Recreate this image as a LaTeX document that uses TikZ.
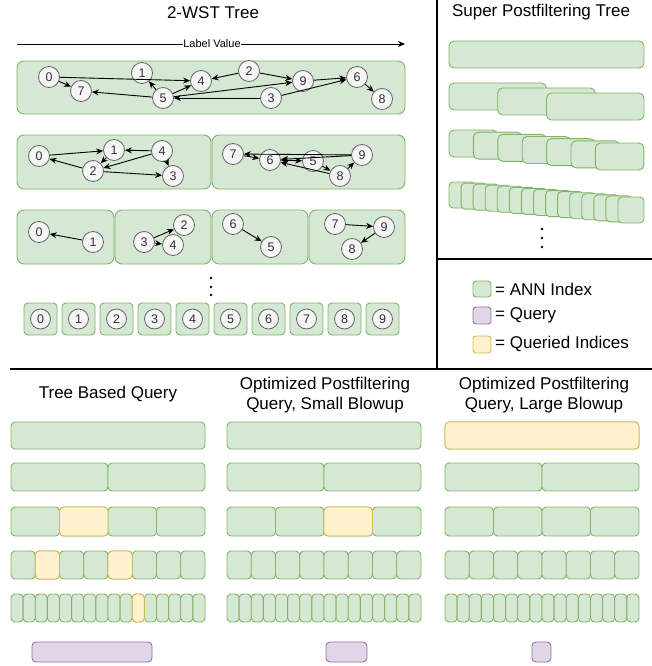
\documentclass[tikz,border=0pt]{standalone}
\usepackage{fontspec}
\setmainfont{Liberation Sans}
\usetikzlibrary{arrows.meta}
\definecolor{gfill}{HTML}{D5E8D4}
\definecolor{gline}{HTML}{82B366}
\definecolor{yfill}{HTML}{FFF2CC}
\definecolor{yline}{HTML}{D6B656}
\definecolor{pfill}{HTML}{E1D5E7}
\definecolor{pline}{HTML}{9673A6}
\definecolor{vfill}{HTML}{F5F5F5}
\definecolor{vline}{HTML}{666666}
\definecolor{vtext}{HTML}{333333}
\tikzset{
  ann/.style={draw=gline, fill=gfill, line width=0.9pt, rounded corners=4pt},
  treebox/.style={draw=gline, fill=gfill, line width=0.9pt, rounded corners=7pt},
  qd/.style={draw=yline, fill=yfill, line width=0.9pt, rounded corners=4pt},
  qry/.style={draw=pline, fill=pfill, line width=0.9pt, rounded corners=4pt},
  vtx/.style={circle, draw=vline, fill=vfill, text=vtext, minimum size=21pt, inner sep=0pt, line width=0.8pt, font=\fontsize{12.5}{12.5}\selectfont},
  arr/.style={-{Stealth[length=7pt,width=6pt]}, line width=0.9pt},
  darr/.style={{Stealth[length=7pt,width=6pt]}-{Stealth[length=7pt,width=6pt]}, line width=0.9pt},
  ttl/.style={font=\fontsize{17}{20.5}\selectfont, align=center, inner sep=1pt},
  lgd/.style={anchor=west, inner sep=0pt, font=\fontsize{17}{17}\selectfont},
  divider/.style={line width=2pt, black},
}
\newcommand{\annrow}[5]{\pgfmathsetmacro{\bw}{#3/#5}\foreach \i in {1,...,#5}{\draw[ann] ({#1+(\i-1)*\bw},#2) rectangle ++(\bw,#4);}}
\newcommand{\qrow}[6]{\pgfmathsetmacro{\bw}{#3/#5}\draw[qd] ({#1+(#6-1)*\bw},#2) rectangle ++(\bw,#4);}
\begin{document}
\begin{tikzpicture}[x=1pt,y=-1pt]
\useasboundingbox (0,0) rectangle (652,666);
% dividers
\draw[divider] (437,0) -- (437,369);
\draw[divider] (10,369) -- (652,369);
\draw[divider] (437,259) -- (652,259);

% ---------- 2-WST tree ----------
\node[ttl] (t1) at (213,13) {2-WST Tree};
\coordinate (ls) at (17,44);
\coordinate (le) at (405,44);
\draw[arr] (ls) -- (le);
\node[fill=white, inner sep=0.5pt, font=\fontsize{11}{11}\selectfont] (lv) at (212,44) {Label Value};

% row 1
\draw[treebox] (17,61) rectangle (405,114);
\node[vtx] (a0) at (49,77) {0};
\node[vtx] (a7) at (81,91) {7};
\node[vtx] (a1) at (142,73) {1};
\node[vtx] (a5) at (163,98) {5};
\node[vtx] (a4) at (201,81) {4};
\node[vtx] (a2) at (249,71) {2};
\node[vtx] (a9) at (303,81) {9};
\node[vtx] (a3) at (271,98) {3};
\node[vtx] (a6) at (357,77) {6};
\node[vtx] (a8) at (382,99) {8};
\draw[arr] (a0) -- (a7);
\draw[arr] (a0) -- (a4);
\draw[arr] (a5) -- (a7);
\draw[arr] (a5) -- (a1);
\draw[arr] (a5) -- (a4);
\draw[arr] (a2) -- (a4);
\draw[arr] (a2) -- (a9);
\draw[arr] (a5) -- (a9);
\draw[arr] (a3) -- (a5);
\draw[arr] (a3) -- (a6);
\draw[arr] (a9) -- (a6);
\draw[arr] (a6) -- (a8);

% row 2
\draw[treebox] (17,135) rectangle (211,189);
\draw[treebox] (212,135) rectangle (405,189);
\node[vtx] (b0) at (39,156) {0};
\node[vtx] (b1) at (114,150) {1};
\node[vtx] (b2) at (93,171) {2};
\node[vtx] (b4) at (162,151) {4};
\node[vtx] (b3) at (173,176) {3};
\draw[arr] (b0) -- (b1);
\draw[arr] (b2) -- (b0);
\draw[arr] (b1) -- (b2);
\draw[arr] (b4) -- (b1);
\draw[arr] (b4) -- (b2);
\draw[arr] (b4) -- (b3);
\draw[arr] (b2) -- (b3);
\node[vtx] (b7) at (233,154) {7};
\node[vtx] (b6) at (270,160) {6};
\node[vtx] (b5) at (313,161) {5};
\node[vtx] (b9) at (362,155) {9};
\node[vtx] (b8) at (340,176) {8};
\draw[arr] (b9) -- (b7);
\draw[arr] (b7) -- (b6);
\draw[darr] (b6) -- (b5);
\draw[arr] (b9) -- (b6);
\draw[arr] (b5) -- (b8);
\draw[arr] (b8) -- (b9);
\draw[arr] (b8) -- (b6);

% row 3
\draw[treebox] (17,210) rectangle (114,264);
\draw[treebox] (115,210) rectangle (211,264);
\draw[treebox] (212,210) rectangle (308,264);
\draw[treebox] (309,210) rectangle (405,264);
\node[vtx] (c0) at (39,232) {0};
\node[vtx] (c1) at (93,242) {1};
\node[vtx] (c3) at (144,242) {3};
\node[vtx] (c2) at (184,225) {2};
\node[vtx] (c4) at (173,245) {4};
\node[vtx] (c6) at (233,224) {6};
\node[vtx] (c5) at (271,247) {5};
\node[vtx] (c7) at (335,224) {7};
\node[vtx] (c9) at (384,227) {9};
\node[vtx] (c8) at (352,249) {8};
\draw[arr] (c1) -- (c0);
\draw[arr] (c3) -- (c2);
\draw[arr] (c3) -- (c4);
\draw[arr] (c6) -- (c5);
\draw[arr] (c7) -- (c9);
\draw[arr] (c9) -- (c8);

% dots
\foreach \yy in {278,287,295} \fill (211,\yy) circle (1.3pt);

% row 4
\foreach \k in {0,...,9} {
  \draw[ann] ({24+38*\k},303) rectangle ++(33,32);
  \node[vtx, minimum size=20pt] (d\k) at ({40.5+38*\k},319) {\k};
}

% ---------- Super Postfiltering Tree ----------
\node[ttl] (t2) at (541,12) {Super Postfiltering Tree};
\draw[ann, rounded corners=5pt] (449,41) rectangle (644,68);
\foreach \k in {0,1,2} \draw[ann, rounded corners=5pt] ({449+48.75*\k},{83+5*\k}) rectangle ++(97.5,27);
\foreach \k in {0,...,6} \draw[ann, rounded corners=5pt] ({449+24.4*\k},{130+2.17*\k}) rectangle ++(48.5,27);
\foreach \k in {0,...,14} \draw[ann, rounded corners=4pt] ({449+12.07*\k},{182+1.07*\k}) rectangle ++(26,26);
\foreach \yy in {229,238,247} \fill (542,\yy) circle (1.3pt);

% ---------- Legend ----------
\draw[ann, rounded corners=3pt] (473,281) rectangle (491,297);
\draw[qry, rounded corners=3pt] (473,307) rectangle (491,324);
\draw[qd, rounded corners=3pt] (473,336) rectangle (491,353);
\node[lgd] (l1) at (495,289) {= ANN Index};
\node[lgd] (l2) at (495,315) {= Query};
\node[lgd] (l3) at (495,344) {= Queried Indices};

% ---------- Bottom panels ----------
\node[ttl] (t3) at (108,394) {Tree Based Query};
\node[ttl] (t4) at (325,395) {Optimized Postfiltering\\Query, Small Blowup};
\node[ttl] (t5) at (544,395) {Optimized Postfiltering\\Query, Large Blowup};

\foreach \x in {11,227,445} {
  \annrow{\x}{422}{194}{27}{1}
  \annrow{\x}{463}{194}{28}{2}
  \annrow{\x}{507}{194}{29}{4}
  \annrow{\x}{551}{194}{28}{8}
  \annrow{\x}{594}{194}{28}{16}
}
\qrow{11}{507}{194}{29}{4}{2}
\qrow{11}{551}{194}{28}{8}{2}
\qrow{11}{551}{194}{28}{8}{5}
\qrow{11}{594}{194}{28}{16}{11}
\qrow{227}{507}{194}{29}{4}{3}
\qrow{445}{422}{194}{27}{1}{1}

\draw[qry] (32,642) rectangle (152,662);
\draw[qry] (326,642) rectangle (367,662);
\draw[qry] (532,642) rectangle (551,662);
\end{tikzpicture}
\end{document}
